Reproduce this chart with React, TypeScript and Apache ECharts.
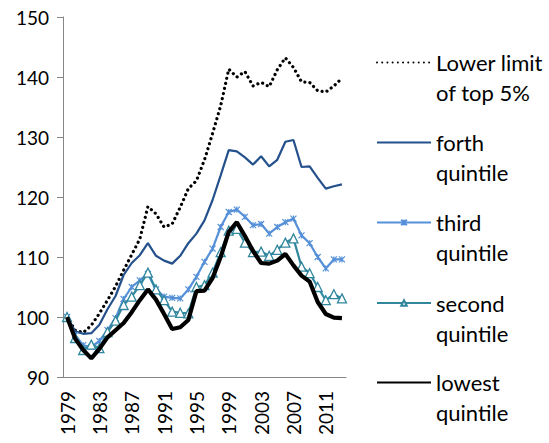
import React, { useEffect, useRef } from "react";
import * as echarts from "echarts";

const years = [
  "1979", "1980", "1981", "1982", "1983", "1984", "1985", "1986", "1987", "1988",
  "1989", "1990", "1991", "1992", "1993", "1994", "1995", "1996", "1997", "1998",
  "1999", "2000", "2001", "2002", "2003", "2004", "2005", "2006", "2007", "2008",
  "2009", "2010", "2011", "2012", "2013",
];

const top5 = [
  100, 97.8, 97.4, 98.6, 100.6, 102.8, 105.1, 107.8, 110.4, 113.0,
  118.4, 117.2, 115.0, 115.5, 118.3, 121.4, 122.7, 126.2, 130.6, 135.2,
  141.3, 140.0, 140.9, 138.5, 139.1, 138.4, 141.2, 143.2, 141.6, 139.2,
  139.1, 137.7, 137.5, 138.5, 139.8,
];

const forth = [
  100, 97.6, 97.2, 97.3, 98.7, 101.3, 103.5, 107.0, 109.0, 110.3,
  112.3, 110.2, 109.4, 108.9, 110.2, 112.3, 113.9, 116.1, 119.5, 123.6,
  127.8, 127.6, 126.6, 125.4, 126.8, 125.1, 126.2, 129.2, 129.5, 125.0,
  125.1, 123.2, 121.4, 121.8, 122.1,
];

const third = [
  100, 97.0, 95.3, 95.0, 96.0, 97.8, 99.8, 103.0, 105.0, 106.1,
  107.2, 104.6, 103.4, 103.2, 103.1, 104.6, 106.7, 109.2, 111.4, 115.0,
  117.5, 117.9, 116.7, 115.3, 115.5, 113.9, 115.0, 115.8, 116.4, 113.6,
  112.3, 110.0, 108.1, 109.6, 109.6,
];

const second = [
  100, 96.5, 94.5, 95.4, 94.8, 97.5, 99.4, 102.0, 103.4, 105.3,
  107.4, 104.6, 102.8, 100.9, 100.7, 100.6, 105.0, 105.3, 107.4, 110.8,
  114.4, 114.7, 112.4, 110.8, 110.9, 110.2, 111.2, 112.4, 113.1, 108.4,
  107.3, 105.0, 102.8, 103.8, 103.1,
];

const lowest = [
  100, 96.4, 94.5, 93.1, 94.7, 96.6, 97.8, 99.0, 100.8, 102.8,
  104.6, 102.9, 100.5, 98.0, 98.3, 99.5, 104.3, 104.4, 106.5, 110.0,
  114.2, 115.8, 113.5, 111.0, 109.0, 108.9, 109.4, 110.5, 108.6, 106.9,
  105.9, 102.5, 100.5, 99.9, 99.8,
];

const seriesNames = ["top5", "forth", "third", "second", "lowest"];
const legendLabels = [
  "Lower limit\nof top 5%",
  "forth\nquintile",
  "third\nquintile",
  "second\nquintile",
  "lowest\nquintile",
];
const legendCenters = [62.5, 142.5, 222.5, 303, 382.5];
const legendHasMarker = [false, false, true, true, false];

const FONT = "Lato";

export default function App() {
  const ref = useRef<HTMLDivElement>(null);
  useEffect(() => {
    if (!ref.current) return;
    const chart = echarts.init(ref.current, null, { renderer: "svg" });
    const xMark = "path://M0,0L10,10M10,0L0,10M5,0L5,10";
    const legends = seriesNames.map((n, i) => ({
      data: [n],
      orient: "vertical",
      left: 376,
      top: legendCenters[i] - 45,
      padding: 0,
      itemWidth: 54,
      itemHeight: legendHasMarker[i] ? 7 : 14,
      selectedMode: false,
      itemStyle: legendHasMarker[i] ? {} : { opacity: 0, color: "transparent", borderWidth: 0 },
      formatter: () => " \n" + legendLabels[i],
      textStyle: {
        fontFamily: FONT,
        fontSize: 22,
        lineHeight: 30,
        color: "#000",
      },
    }));
    chart.setOption({
      animation: false,
      backgroundColor: "#fff",
      grid: { left: 63, right: 203, top: 17, bottom: 66, containLabel: false },
      legend: legends,
      xAxis: {
        type: "category",
        data: years,
        boundaryGap: true,
        axisLine: { lineStyle: { color: "#868686", width: 1 } },
        axisTick: { interval: 0, length: 5, lineStyle: { color: "#868686" } },
        axisLabel: {
          interval: 3,
          rotate: 90,
          margin: 14,
          fontFamily: FONT,
          fontSize: 19,
          color: "#000",
        },
      },
      yAxis: {
        type: "value",
        min: 90,
        max: 150,
        interval: 10,
        splitLine: { show: false },
        axisLine: { show: true, lineStyle: { color: "#868686", width: 1 } },
        axisTick: { show: true, length: 6, lineStyle: { color: "#868686" } },
        axisLabel: {
          margin: 14,
          fontFamily: FONT,
          fontSize: 19,
          color: "#000",
        },
      },
      series: [
        {
          name: "top5",
          type: "line",
          data: top5,
          symbol: "none",
          z: 1,
          lineStyle: { color: "#000", width: 3.2, type: [0.01, 5.2], cap: "round" },
          itemStyle: { color: "#000" },
        },
        {
          name: "forth",
          type: "line",
          data: forth,
          symbol: "none",
          z: 2,
          lineStyle: { color: "#24508C", width: 2.2 },
          itemStyle: { color: "#24508C" },
        },
        {
          name: "third",
          type: "line",
          data: third,
          symbol: xMark,
          symbolSize: 6,
          showAllSymbol: true,
          z: 3,
          lineStyle: { color: "#5590D8", width: 2.2 },
          itemStyle: { color: "#5590D8", borderColor: "#5590D8", borderWidth: 1.2 },
        },
        {
          name: "second",
          type: "line",
          data: second,
          symbol: "triangle",
          symbolSize: 9,
          showAllSymbol: true,
          z: 4,
          lineStyle: { color: "#31879E", width: 2.2 },
          itemStyle: { color: "#fff", borderColor: "#31879E", borderWidth: 1.3 },
        },
        {
          name: "lowest",
          type: "line",
          data: lowest,
          symbol: "none",
          z: 5,
          lineStyle: { color: "#000", width: 4.2 },
          itemStyle: { color: "#000" },
        },
      ],
    });
    return () => chart.dispose();
  }, []);
  return (
    <div
      ref={ref}
      style={{ position: "absolute", left: 0, top: 0, width: 549, height: 443 }}
    />
  );
}
